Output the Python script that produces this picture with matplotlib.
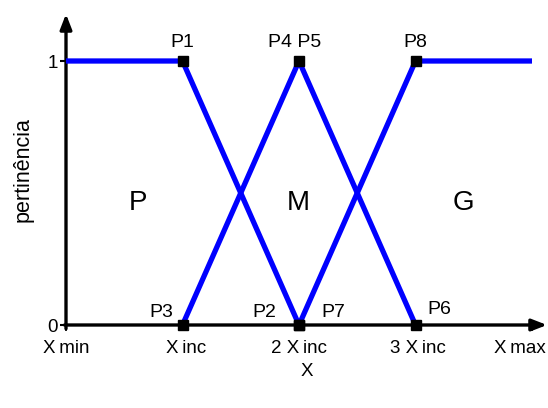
import matplotlib
matplotlib.use("Agg")
import matplotlib.pyplot as plt
import matplotlib.transforms as mtransforms

plt.rcParams['font.family'] = ['Liberation Sans', 'DejaVu Sans']

# Membership functions (x in units of Xinc, y = pertinência)
p_x = [0, 1, 2]
p_y = [1, 1, 0]
m_x = [1, 2, 3]
m_y = [0, 1, 0]
g_x = [2, 3, 4]
g_y = [0, 1, 1]

# Labelled points
pt_names = ['P1', 'P4 P5', 'P8', 'P3', 'P2', 'P7', 'P6']
pt_x = [1, 2, 3, 1, 2, 2, 3]
pt_y = [1, 1, 1, 0, 0, 0, 0]

set_names = ['P', 'M', 'G']
set_x = [0.62, 1.99, 3.41]

xtick_vals = [0, 1, 2, 3, 4]
xtick_labels = ['X\u2009min', 'X\u2009inc', '2 X\u2009inc', '3 X\u2009inc', 'X\u2009max']
ytick_vals = [0, 1]
ytick_labels = ['0', '1']

W, H = 548, 408
fig = plt.figure(figsize=(W / 100, H / 100), dpi=100)
x0, y0 = 66, 325
sx, sy = 116.5, 264
right_px, top_px = 547, 14
ax = fig.add_axes([x0 / W, (H - y0) / H, (right_px - x0) / W, (y0 - top_px) / H])
ax.set_xlim(0, (right_px - x0) / sx)
ax.set_ylim(0, (y0 - top_px) / sy)

for s in ax.spines.values():
    s.set_visible(False)

# axes with arrows
ax.annotate('', xy=(0, 1), xycoords='axes fraction', xytext=(0, -0.012),
            arrowprops=dict(arrowstyle='-|>,head_length=0.9,head_width=0.35',
                            lw=2.4, color='black', shrinkA=0, shrinkB=0),
            annotation_clip=False)
ax.annotate('', xy=(1, 0), xycoords='axes fraction', xytext=(-0.003, 0),
            arrowprops=dict(arrowstyle='-|>,head_length=0.9,head_width=0.35',
                            lw=2.4, color='black', shrinkA=0, shrinkB=0),
            annotation_clip=False)

blue = '#0000ff'
for xs, ys in [(p_x, p_y), (m_x, m_y), (g_x, g_y)]:
    ax.plot(xs, ys, color=blue, lw=3.8, solid_capstyle='butt', zorder=3)

ax.plot(pt_x, pt_y, 's', color='black', markersize=7, zorder=4, clip_on=False)

offsets = {
    'P1': (0, 13), 'P4 P5': (-3, 13), 'P8': (0, 13),
    'P3': (-15, 9), 'P2': (-25, 9), 'P7': (25, 9), 'P6': (17, 11),
}
for name, x, y in zip(pt_names, pt_x, pt_y):
    dx, dy = offsets[name]
    ax.annotate(name, (x, y), xytext=(dx, dy), textcoords='offset points',
                ha='center', va='center', fontsize=14, annotation_clip=False)

for name, x in zip(set_names, set_x):
    ax.text(x, 0.462, name, ha='center', va='center', fontsize=20)

ax.set_xticks(xtick_vals)
ax.set_xticklabels(xtick_labels, fontsize=13.5)
ax.set_yticks(ytick_vals)
ax.set_yticklabels(ytick_labels, fontsize=13.5)
ax.tick_params(axis='x', direction='out', length=4, width=1.2, pad=7)
ax.tick_params(axis='y', direction='out', length=4, width=1.5, pad=2)

# shift a few tick labels as in the reference
shifts = [0, 4, 0, 2, -12]
for lab, dx in zip(ax.get_xticklabels(), shifts):
    lab.set_transform(lab.get_transform() +
                      mtransforms.ScaledTranslation(dx / 100, 0, fig.dpi_scale_trans))

ax.set_xlabel('X', fontsize=13.5, labelpad=4)
ax.set_ylabel('pertinência', fontsize=15.5, labelpad=10)

fig.savefig('out.png', dpi=100, facecolor='white')
